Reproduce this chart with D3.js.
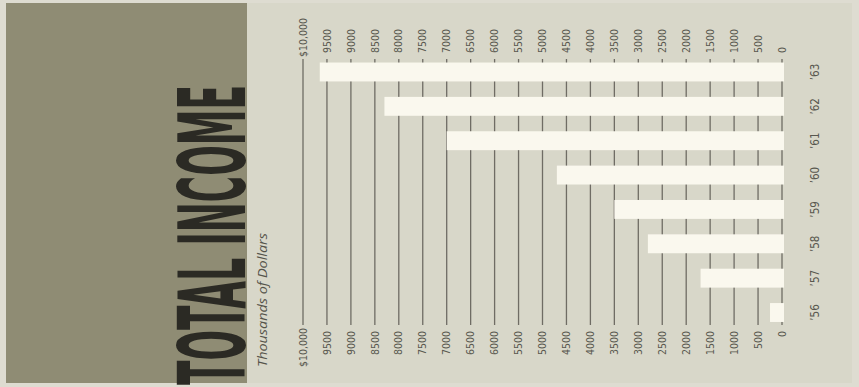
<!DOCTYPE html>
<html>
<head>
<meta charset="utf-8">
<script src="https://cdn.jsdelivr.net/npm/d3@7"></script>
<style>
  html, body { margin: 0; padding: 0; background: #dedcd1; }
  svg { display: block; }
</style>
</head>
<body>
<svg width="859" height="387"></svg>
<script>
// data (thousands of dollars)
const years = ["’56", "’57", "’58", "’59", "’60", "’61", "’62", "’63"];
const income = [250, 1700, 2800, 3500, 4700, 7000, 8300, 9650];
const tickValues = [0, 500, 1000, 1500, 2000, 2500, 3000, 3500, 4000, 4500, 5000,
    5500, 6000, 6500, 7000, 7500, 8000, 8500, 9000, 9500, 10000];
const tickLabels = ["0", "500", "1000", "1500", "2000", "2500", "3000", "3500", "4000", "4500", "5000",
    "5500", "6000", "6500", "7000", "7500", "8000", "8500", "9000", "9500", "$10,000"];

const svg = d3.select("svg");
const tickFont = "'Liberation Sans Narrow', 'DejaVu Sans Condensed', sans-serif";

// scales: value runs right-to-left, newest year on top
const x = d3.scaleLinear().domain([0, 10000]).range([782, 303]);
const y = d3.scaleBand()
    .domain(years.slice().reverse())
    .range([54.8, 329.7])
    .paddingInner(0.45)
    .paddingOuter(0.225);

// backgrounds
svg.append("rect")
    .attr("x", 247).attr("y", 3).attr("width", 605).attr("height", 380)
    .attr("fill", "#d8d7c9");
svg.append("rect")
    .attr("x", 6).attr("y", 3).attr("width", 241).attr("height", 380)
    .attr("fill", "#8f8c74");

// title block - squeeze the glyphs with a scale so it fits the strip
const title = svg.append("text")
    .attr("font-family", "'Liberation Sans Narrow', 'DejaVu Sans Condensed', sans-serif")
    .attr("font-weight", "bold")
    .attr("font-size", 93)
    .attr("fill", "#2b2a24")
    .text("TOTAL INCOME");
const titleLen = title.node().getComputedTextLength();
title.attr("transform", `translate(245,385) rotate(-90) scale(${300 / titleLen},1)`);

svg.append("text")
    .attr("transform", "translate(267,367) rotate(-90)")
    .attr("font-family", "'Open Sans', sans-serif")
    .attr("font-style", "italic")
    .attr("font-size", 13)
    .attr("fill", "#55534a")
    .attr("textLength", 134)
    .attr("lengthAdjust", "spacingAndGlyphs")
    .text("Thousands of Dollars");

// grid lines
svg.append("g")
    .selectAll("line")
    .data(tickValues)
    .join("line")
    .attr("x1", d => x(d)).attr("x2", d => x(d))
    .attr("y1", 59).attr("y2", 325)
    .attr("stroke", "#6f6c64")
    .attr("stroke-width", 1.3);

// bars
svg.append("g")
    .selectAll("rect")
    .data(years)
    .join("rect")
    .attr("x", (d, i) => x(income[i]))
    .attr("y", d => y(d))
    .attr("width", (d, i) => x(0) - x(income[i]) + 2)
    .attr("height", y.bandwidth())
    .attr("fill", "#faf8ee");

// tick labels, top and bottom
const labels = svg.append("g")
    .attr("font-family", tickFont)
    .attr("font-size", 10.5)
    .attr("fill", "#58574f");

labels.selectAll("text.top")
    .data(tickValues)
    .join("text")
    .attr("class", "top")
    .attr("transform", d => `translate(${x(d)},${d === 10000 ? 57 : 53}) rotate(-90)`)
    .attr("dy", "0.35em")
    .attr("text-anchor", "start")
    .text((d, i) => tickLabels[i]);

labels.selectAll("text.bottom")
    .data(tickValues)
    .join("text")
    .attr("class", "bottom")
    .attr("transform", d => `translate(${x(d)},${d === 10000 ? 328 : 331}) rotate(-90)`)
    .attr("dy", "0.35em")
    .attr("text-anchor", "end")
    .text((d, i) => tickLabels[i]);

// year labels
svg.append("g")
    .attr("font-family", tickFont)
    .attr("font-size", 11.5)
    .attr("fill", "#58574f")
    .selectAll("text")
    .data(years)
    .join("text")
    .attr("transform", d => `translate(815,${y(d) + y.bandwidth() / 2}) rotate(-90)`)
    .attr("dy", "0.35em")
    .attr("text-anchor", "middle")
    .text(d => d);
</script>
</body>
</html>
